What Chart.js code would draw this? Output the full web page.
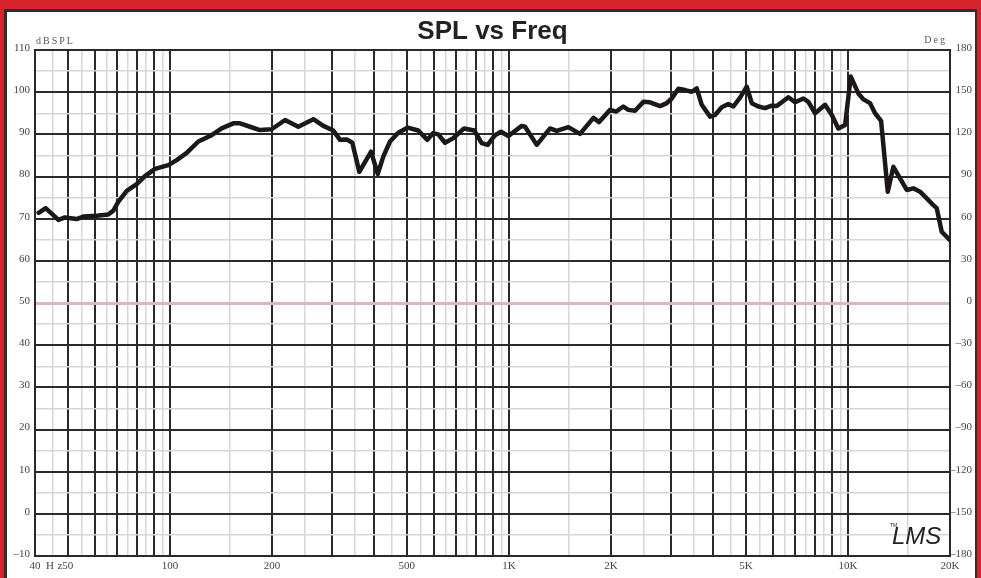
<!DOCTYPE html>
<html>
<head>
<meta charset="utf-8">
<script src="https://cdn.jsdelivr.net/npm/chart.js@4/dist/chart.umd.min.js"></script>
<style>
  html, body { margin: 0; padding: 0; }
  body { width: 981px; height: 578px; background: #d6242f; position: relative; overflow: hidden; }
  #card { position: absolute; left: 4px; top: 9px; width: 973px; height: 600px; background: #fff; border: 3px solid #2e2e2e; border-right-width: 2px; box-sizing: border-box; }
  #wrap { position: absolute; left: 0; top: 0; width: 981px; height: 578px; }
</style>
</head>
<body>
<div id="card"></div>
<div id="wrap"><canvas id="spl" width="981" height="578"></canvas></div>
<script>
// Frequency response (Hz) and level (dB SPL)
const freqs = [41, 43, 46.9, 49, 53.1, 55.5, 60.8, 65.8, 68.1, 70.4, 74.6, 79.8, 84.4, 90.4, 98.9,
  104.7, 112.1, 121.3, 132.8, 142.1, 153.8, 161, 172.3, 184.4, 199.6, 218.6, 239.2, 264.9, 283.5,
  303.4, 317.5, 332.4, 345.2, 362, 392, 410.2, 426, 445.9, 471.8, 502.9, 540.4, 574.4, 598.3, 619,
  647.8, 685.4, 737.3, 790.6, 831.2, 865.8, 909.8, 947.6, 995.9, 1091, 1116, 1208, 1322, 1383,
  1497, 1621, 1775, 1845, 1988, 2070, 2175, 2250, 2355, 2492, 2608, 2792, 2921, 3022, 3161, 3308,
  3462, 3581, 3705, 3920, 4055, 4244, 4438, 4592, 4806, 5029, 5204, 5441, 5695, 5960, 6166, 6672,
  6983, 7388, 7643, 7999, 8561, 8959, 9370, 9807, 10194, 10734, 11106, 11622, 12024, 12525, 13106,
  13615, 14908, 15591, 16315, 17076, 17860, 18276, 18907, 20000];
const spl = [71.4, 72.5, 69.7, 70.3, 69.9, 70.5, 70.7, 71.0, 71.9, 74.0, 76.6, 78.2, 80.1, 81.8, 82.7,
  83.9, 85.6, 88.3, 89.8, 91.4, 92.6, 92.6, 91.8, 91.0, 91.2, 93.4, 91.8, 93.6, 92.0,
  90.9, 88.7, 88.8, 88.0, 81.1, 85.9, 80.6, 84.7, 88.3, 90.4, 91.6, 90.9, 88.7, 90.3, 90.0,
  88.0, 89.1, 91.4, 90.9, 87.9, 87.5, 89.8, 90.6, 89.6, 92.0, 91.8, 87.5, 91.4, 90.8,
  91.7, 90.1, 93.9, 92.9, 95.8, 95.4, 96.6, 95.8, 95.6, 97.7, 97.6, 96.7, 97.4, 98.5, 100.8, 100.5,
  100.1, 100.9, 97.0, 94.2, 94.6, 96.4, 97.2, 96.6, 98.7, 101.3, 97.4, 96.6, 96.2, 96.8, 96.7, 98.8,
  97.6, 98.5, 97.7, 95.0, 97.0, 94.6, 91.4, 92.2, 103.7, 99.7, 98.3, 97.4, 95.0, 93.2, 76.4,
  82.3, 76.8, 77.2, 76.4, 74.8, 73.2, 72.5, 66.9, 64.9];

// Axis ticks
const xLabelValues = [40, 50, 100, 200, 500, 1000, 2000, 5000, 10000, 20000];
const xLabelTexts = ['40', '50', '100', '200', '500', '1K', '2K', '5K', '10K', '20K'];
const gridMantissas = [1, 1.5, 2, 2.5, 3, 3.5, 4, 4.5, 5, 5.5, 6, 6.5, 7, 7.5, 8, 8.5, 9, 9.5];
const decades = [10, 100, 1000, 10000];

const gridFreqs = [];
decades.forEach(d => gridMantissas.forEach(m => {
  const v = m * d;
  if (v >= 40 && v <= 20000) gridFreqs.push(v);
}));

const DARK = '#2a2a2a';
const LIGHT = '#d6d6d6';
const PINK = '#dcb6be';
const TICK_FONT = { family: '"Liberation Serif", "DejaVu Serif", serif', size: 11 };

function isMajor(v) {
  const m = v / Math.pow(10, Math.floor(Math.log10(v) + 1e-9));
  return Math.abs(m - Math.round(m)) < 1e-6;
}

// Extra captions: axis units, the "Hz" after 40 and the LMS mark
const captions = {
  id: 'captions',
  afterDraw(chart) {
    const ctx = chart.ctx;
    const a = chart.chartArea;
    ctx.save();
    ctx.fillStyle = '#555';
    ctx.textBaseline = 'middle';
    ctx.font = '10px "Liberation Serif", serif';
    if ('letterSpacing' in ctx) ctx.letterSpacing = '2px';
    ctx.textAlign = 'left';
    ctx.fillText('dBSPL', a.left + 1, a.top - 9);
    ctx.textAlign = 'right';
    ctx.fillText('Deg', a.right - 3, a.top - 10);
    if ('letterSpacing' in ctx) ctx.letterSpacing = '0px';
    ctx.font = '11px "Liberation Serif", serif';
    ctx.fillStyle = '#444';
    ctx.textAlign = 'center';
    ctx.fillText('H', a.left + 15, a.bottom + 10);
    ctx.fillText('z', a.left + 25, a.bottom + 10);
    ctx.fillStyle = '#222';
    ctx.font = 'italic 24px "Liberation Sans", sans-serif';
    ctx.textAlign = 'left';
    ctx.fillText('LMS', a.right - 58, a.bottom - 19);
    ctx.font = '5px sans-serif';
    ctx.fillText('TM', a.right - 60, a.bottom - 30);
    ctx.restore();
  }
};

new Chart(document.getElementById('spl'), {
  type: 'line',
  data: {
    datasets: [{
      data: freqs.map((f, i) => ({ x: f, y: spl[i] })),
      borderColor: '#1c1818',
      borderWidth: 4.5,
      borderJoinStyle: 'round',
      borderCapStyle: 'round',
      pointRadius: 0,
      tension: 0,
      yAxisID: 'y'
    }]
  },
  options: {
    responsive: false,
    animation: false,
    layout: { padding: { left: 0, right: 9 } },
    plugins: {
      legend: { display: false },
      tooltip: { enabled: false },
      title: {
        display: true,
        fullSize: false,
        text: 'SPL vs Freq',
        color: '#222',
        font: { family: '"Liberation Sans", Arial, sans-serif', size: 26, weight: 'bold', lineHeight: 1.2 },
        padding: { top: 16, bottom: 2.8 }
      }
    },
    scales: {
      x: {
        type: 'logarithmic',
        min: 40,
        max: 20000,
        afterBuildTicks: s => { s.ticks = gridFreqs.map(v => ({ value: v })); },
        afterFit: s => { s.height = 22; },
        grid: {
          drawTicks: false,
          color: c => isMajor(c.tick.value) ? DARK : LIGHT,
          lineWidth: c => isMajor(c.tick.value) ? 2 : 1.5
        },
        border: { color: DARK, width: 2 },
        ticks: {
          autoSkip: false,
          maxRotation: 0,
          padding: 4,
          color: '#444',
          font: TICK_FONT,
          callback: v => {
            const i = xLabelValues.indexOf(v);
            return i >= 0 ? xLabelTexts[i] : '';
          }
        }
      },
      y: {
        position: 'left',
        min: -10,
        max: 110,
        afterFit: s => { s.width = 35; },
        grid: {
          drawTicks: false,
          color: c => c.tick.value === 50 ? PINK : (c.tick.value % 10 === 0 ? DARK : LIGHT),
          lineWidth: c => c.tick.value === 50 ? 3 : (c.tick.value % 10 === 0 ? 2 : 1.5)
        },
        border: { color: DARK, width: 2 },
        ticks: {
          stepSize: 5,
          padding: 5,
          labelOffset: -2,
          color: '#444',
          font: TICK_FONT,
          callback: v => v % 10 === 0 ? String(v).replace('-', '\u2013') : ''
        }
      },
      y2: {
        position: 'right',
        min: -180,
        max: 180,
        afterFit: s => { s.width = 22; },
        grid: { display: false, drawTicks: false },
        border: { color: DARK, width: 2 },
        ticks: {
          stepSize: 15,
          padding: 0,
          crossAlign: 'far',
          labelOffset: -2,
          color: '#444',
          font: TICK_FONT,
          callback: v => v % 30 === 0 ? String(v).replace('-', '\u2013') : ''
        }
      }
    }
  },
  plugins: [captions]
});
</script>
</body>
</html>
